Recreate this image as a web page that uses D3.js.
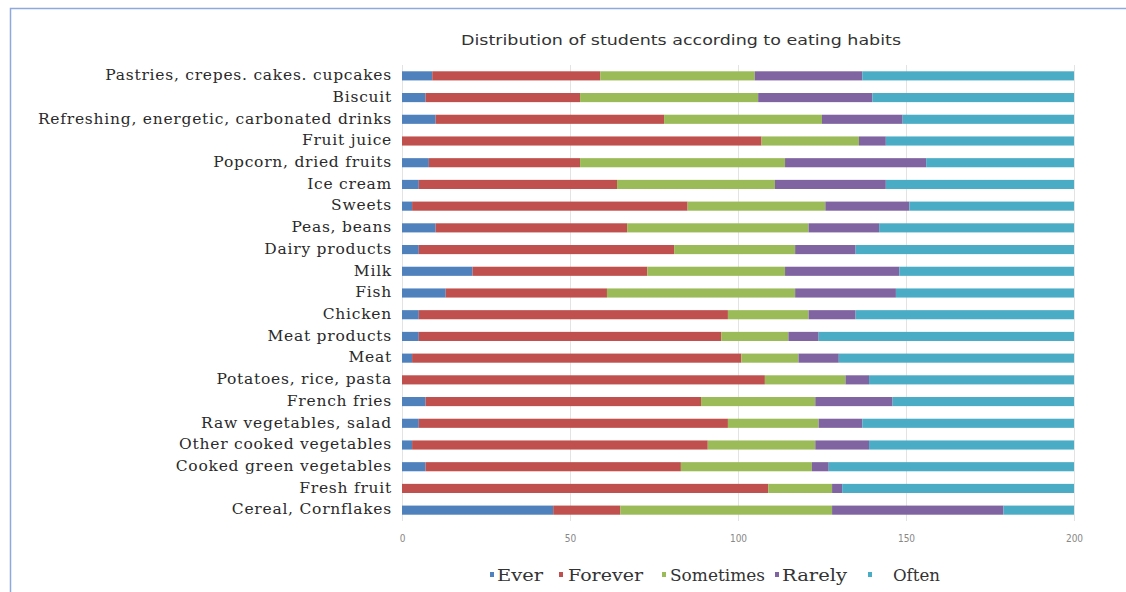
<!DOCTYPE html>
<html><head><meta charset="utf-8">
<script src="https://cdn.jsdelivr.net/npm/d3@7"></script>
<style>body{margin:0;background:#fff;}svg{display:block;}</style>
</head><body><svg id="c" width="1126" height="592"></svg>
<script>
const categories = ["Pastries, crepes. cakes. cupcakes","Biscuit","Refreshing, energetic, carbonated drinks","Fruit juice","Popcorn, dried fruits","Ice cream","Sweets","Peas, beans","Dairy products","Milk","Fish","Chicken","Meat products","Meat","Potatoes, rice, pasta","French fries","Raw vegetables, salad","Other cooked vegetables","Cooked green vegetables","Fresh fruit","Cereal, Cornflakes"];
const seriesNames = ["Ever","Forever","Sometimes","Rarely","Often"];
const ever      = [9,7,10,0,8,5,3,10,5,21,13,5,5,3,0,7,5,3,7,0,45];
const forever   = [50,46,68,107,45,59,82,57,76,52,48,92,90,98,108,82,92,88,76,109,20];
const sometimes = [46,53,47,29,61,47,41,54,36,41,56,24,20,17,24,34,27,32,39,19,63];
const rarely    = [32,34,24,8,42,33,25,21,18,34,30,14,9,12,7,23,13,16,5,3,51];
const often     = [63,60,51,56,44,56,49,58,65,52,53,65,76,70,61,54,63,61,73,69,21];
const xTicks = [0,50,100,150,200];
const colors = ["#4F81BD","#C0504D","#9BBB59","#8064A2","#4BACC6"];

const svg = d3.select("#c");
svg.append("rect").attr("x",10.5).attr("y",8.5).attr("width",1200).attr("height",700)
  .attr("fill","none").attr("stroke","#8ea9db").attr("stroke-width",1.5);

const rows = categories.map((c,i)=>({cat:c, Ever:ever[i], Forever:forever[i], Sometimes:sometimes[i], Rarely:rarely[i], Often:often[i]}));
const stack = d3.stack().keys(seriesNames)(rows);

const x = d3.scaleLinear().domain([0,200]).range([402,1074]);
const y = d3.scaleBand().domain(categories).range([65,521]).paddingInner(0.58).paddingOuter(0.29);

svg.append("g").selectAll("line").data(xTicks).join("line")
  .attr("x1",d=>x(d)+0.5).attr("x2",d=>x(d)+0.5).attr("y1",65).attr("y2",521)
  .attr("stroke","#e3e3e3").attr("stroke-width",1);

svg.append("text").attr("x",681).attr("y",45).attr("text-anchor","middle")
  .attr("font-family","DejaVu Sans Condensed, DejaVu Sans").attr("font-size",14).attr("fill","#333")
  .attr("textLength",440).attr("lengthAdjust","spacingAndGlyphs")
  .text("Distribution of students according to eating habits");

const g = svg.append("g");
g.selectAll("g").data(stack).join("g").attr("fill",(d,i)=>colors[i])
  .selectAll("rect").data(d=>d).join("rect")
  .attr("x",d=>x(d[0])).attr("width",d=>x(d[1])-x(d[0]))
  .attr("y",d=>y(d.data.cat)).attr("height",y.bandwidth());

const yAxis = d3.axisLeft(y).tickSize(0).tickPadding(10);
const ya = svg.append("g").attr("transform","translate(402,0)").call(yAxis);
ya.select(".domain").remove();
ya.selectAll("text").attr("font-family","DejaVu Serif").attr("font-size",15.5)
  .attr("letter-spacing","0.75px").attr("fill","#2a2a2a").attr("dy","0.28em");

const xAxis = d3.axisBottom(x).tickValues(xTicks).tickSize(0).tickPadding(8);
const xa = svg.append("g").attr("transform","translate(0,527)").call(xAxis);
xa.select(".domain").remove();
xa.selectAll("text").attr("font-family","DejaVu Sans Condensed, DejaVu Sans").attr("font-size",10).attr("fill","#888");

const legMark = [492,561,664,777,870];
const legText = [497,568,670,782,893];
const legW = [46,75,95,65,47];
const leg = svg.append("g").selectAll("g").data(seriesNames).join("g");
leg.append("rect").attr("x",(d,i)=>legMark[i]-2).attr("y",572).attr("width",4).attr("height",5).attr("fill",(d,i)=>colors[i]);
leg.append("text").attr("x",(d,i)=>legText[i]).attr("y",581)
  .attr("textLength",(d,i)=>legW[i]).attr("lengthAdjust","spacingAndGlyphs")
  .attr("font-family","DejaVu Serif").attr("font-size",16).attr("fill","#333").text(d=>d);
</script></body></html>
